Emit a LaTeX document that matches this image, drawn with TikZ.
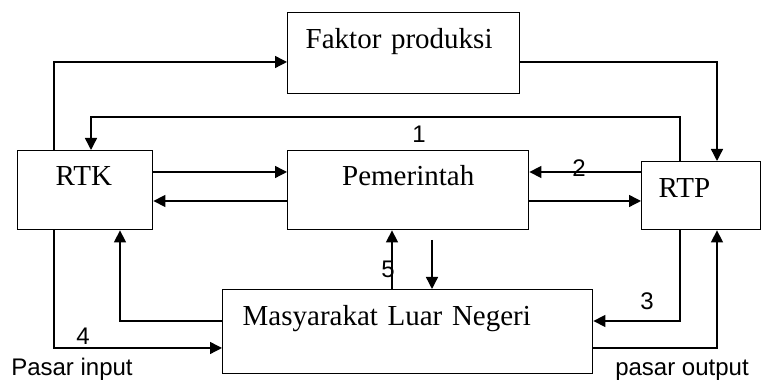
\documentclass[tikz,border=0pt]{standalone}
\usepackage{fontspec}
\setmainfont{Liberation Serif}
\setsansfont{Liberation Sans}
\usetikzlibrary{arrows.meta,calc}

\begin{document}
\begin{tikzpicture}[
			x=0.5pt, y=-0.5pt,
			line width=0.7pt,
			box/.style={rectangle,draw,anchor=north west,inner ysep=0pt,align=left,
				font=\fontsize{14.5}{17}\selectfont},
			flow/.style={-{Triangle[length=6pt,width=6pt]}},
			tag/.style={anchor=base,inner sep=0pt,font=\sffamily\fontsize{12}{14}\selectfont},
			]
			\useasboundingbox (0,0) rectangle (761,383);
			\node [box,inner xsep=9pt,text width=98pt,text height=18pt,text depth=22.5pt] (faktor) at (287,12) {Faktor produksi};
			\node [box,inner xsep=19pt,text width=29.5pt,text height=17.5pt,text depth=22pt] (rtk) at (17,150) {RTK};
			\node [box,align=center,inner xsep=5pt,text width=110.5pt,text height=17.5pt,text depth=22pt] (pem) at (287,150) {Pemerintah};
			\node [box,inner xsep=8.5pt,text width=42.5pt,text height=18pt,text depth=16pt] (rtp) at (641,161) {RTP};
			\node [box,inner xsep=10pt,text width=165pt,text height=18pt,text depth=24pt] (mas) at (222,289) {Masyarakat Luar Negeri};
			% labels
			\node [tag] (n1) at (419,143) {1};
			\node [tag] (n2) at (579,177) {2};
			\node [tag] (n3) at (647,310) {3};
			\node [tag] (n4) at (83,345) {4};
			\node [tag] (n5) at (388,278) {5};
			\node [tag] (pin) at (72,376) {Pasar input};
			\node [tag] (pout) at (682,376) {pasar output};
			\coordinate (down) at (432,240);
			% flows
			\draw [flow] ($(rtk.north west)+(37,0)$) |- ($(faktor.north west)+(0,50)$);
			\draw [flow] ($(faktor.north east)+(0,50)$) -| ($(rtp.north west)+(76,0)$);
			\draw [flow] ($(rtp.north west)+(39,0)$) -- ++(0,-44) -| ($(rtk.north west)+(74,0)$);
			\draw [flow] ($(rtk.north east)+(0,22)$) -- ($(pem.north west)+(0,22)$);
			\draw [flow] ($(pem.north west)+(0,51)$) -- ($(rtk.north east)+(0,51)$);
			\draw [flow] ($(rtp.north west)+(0,11)$) -- ($(pem.north east)+(0,22)$);
			\draw [flow] ($(pem.north east)+(0,51)$) -- ($(rtp.north west)+(0,40)$);
			\draw [flow] ($(mas.north west)+(170,0)$) -- ($(pem.south west)+(105,0)$);
			\draw [flow] (down) -- ($(mas.north west)+(210,0)$);
			\draw [flow] ($(rtp.south west)+(39,0)$) |- ($(mas.north east)+(0,32)$);
			\draw [flow] ($(mas.north east)+(0,59)$) -| ($(rtp.south west)+(76,0)$);
			\draw [flow] ($(mas.north west)+(0,32)$) -| ($(rtk.south west)+(103,0)$);
			\draw [flow] ($(rtk.south west)+(37,0)$) |- ($(mas.north west)+(0,59)$);
		\end{tikzpicture}
\end{document}
